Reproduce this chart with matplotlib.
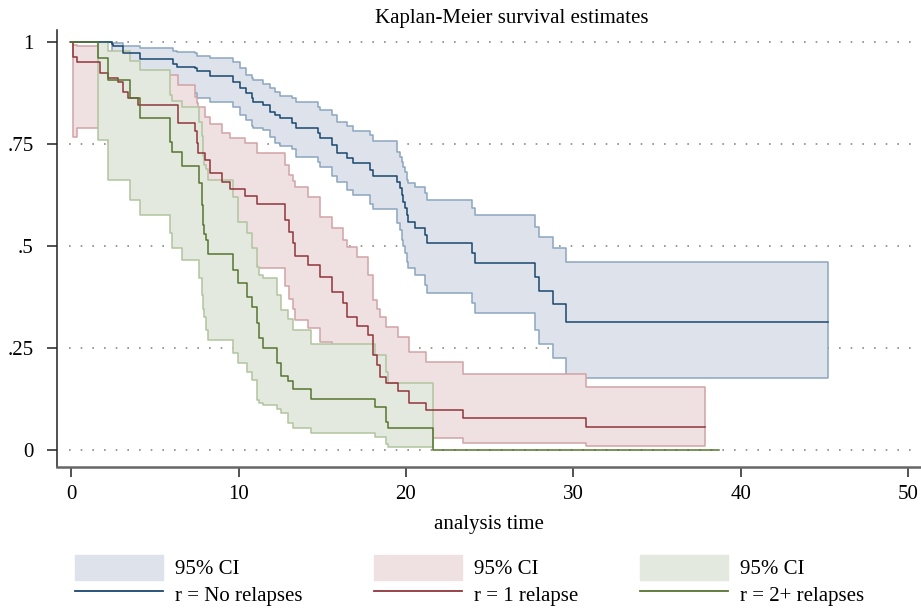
import matplotlib
matplotlib.use("Agg")
import matplotlib.pyplot as plt
from matplotlib.patches import Patch
from matplotlib.lines import Line2D

plt.rcParams["font.family"] = ["Liberation Serif", "DejaVu Serif"]

# --- r = No relapses: event times, survivor function and 95% CI
t_none = [0, 2.45, 2.51, 3.11, 4.12, 6.09, 6.33, 7.41, 7.53, 8.30, 9.68, 10.10,
          10.45, 10.81, 10.87, 11.47, 11.89, 12.19, 12.49, 13.20, 13.44, 14.76,
          14.87, 15.59, 15.89, 16.49, 16.85, 17.86, 18.04, 19.47, 19.65, 19.77,
          19.83, 19.95, 20.07, 20.13, 20.55, 21.15, 21.27, 23.95, 24.13, 27.72,
          27.96, 28.79, 29.57]
s_none = [1, 0.995, 0.990, 0.973, 0.958, 0.946, 0.939, 0.936, 0.929, 0.917, 0.902,
          0.887, 0.875, 0.863, 0.853, 0.846, 0.828, 0.821, 0.814, 0.801, 0.789,
          0.777, 0.765, 0.748, 0.728, 0.716, 0.703, 0.686, 0.672, 0.657, 0.642,
          0.625, 0.608, 0.593, 0.576, 0.559, 0.544, 0.527, 0.507, 0.483, 0.458,
          0.424, 0.390, 0.358, 0.314]
hi_none = [1, 0.999, 0.997, 0.990, 0.985, 0.978, 0.975, 0.973, 0.966, 0.961, 0.951,
           0.936, 0.919, 0.912, 0.907, 0.897, 0.887, 0.877, 0.868, 0.863, 0.853,
           0.841, 0.833, 0.821, 0.804, 0.794, 0.782, 0.772, 0.757, 0.730, 0.718,
           0.706, 0.693, 0.681, 0.662, 0.655, 0.645, 0.630, 0.613, 0.593, 0.576,
           0.547, 0.522, 0.495, 0.461]
lo_none = [1, 0.965, 0.955, 0.925, 0.905, 0.890, 0.880, 0.875, 0.863, 0.853, 0.840,
           0.821, 0.809, 0.795, 0.789, 0.784, 0.767, 0.752, 0.745, 0.737, 0.718,
           0.706, 0.694, 0.672, 0.657, 0.637, 0.625, 0.603, 0.590, 0.557, 0.539,
           0.515, 0.500, 0.483, 0.461, 0.446, 0.429, 0.404, 0.385, 0.360, 0.336,
           0.294, 0.260, 0.225, 0.176]
end_none = 45.22

# --- r = 1 relapse
t_one = [0, 0.10, 0.36, 1.73, 2.21, 2.81, 3.11, 3.41, 4.00, 6.39, 7.41, 7.53, 7.59,
         8.00, 8.30, 9.02, 9.50, 10.39, 11.11, 12.78, 13.02, 13.26, 13.38, 14.16,
         14.87, 15.59, 16.25, 16.49, 17.08, 17.74, 18.04, 18.30, 18.46, 18.82,
         19.53, 20.19, 21.21, 23.42, 30.76]
s_one = [1, 0.963, 0.951, 0.924, 0.912, 0.902, 0.877, 0.863, 0.846, 0.801, 0.782,
         0.752, 0.728, 0.711, 0.679, 0.657, 0.640, 0.623, 0.603, 0.564, 0.534,
         0.507, 0.475, 0.453, 0.424, 0.387, 0.360, 0.326, 0.304, 0.282, 0.233,
         0.208, 0.179, 0.164, 0.145, 0.115, 0.098, 0.078, 0.056]
hi_one = [1, 0.993, 0.990, 0.980, 0.965, 0.955, 0.945, 0.931, 0.920, 0.895, 0.865,
          0.850, 0.841, 0.816, 0.800, 0.777, 0.765, 0.752, 0.728, 0.699, 0.674,
          0.660, 0.645, 0.620, 0.571, 0.544, 0.515, 0.498, 0.473, 0.429, 0.368,
          0.345, 0.326, 0.301, 0.277, 0.240, 0.216, 0.186, 0.155]
lo_one = [1, 0.767, 0.789, 0.770, 0.755, 0.740, 0.710, 0.695, 0.675, 0.625, 0.600,
          0.570, 0.550, 0.530, 0.500, 0.480, 0.465, 0.455, 0.446, 0.402, 0.370,
          0.345, 0.319, 0.299, 0.265, 0.235, 0.210, 0.190, 0.170, 0.150, 0.110,
          0.095, 0.085, 0.070, 0.055, 0.040, 0.029, 0.017, 0.010]
end_one = 37.87

# --- r = 2+ relapses (CI stops when the estimate reaches 0)
t_two = [0, 1.61, 2.21, 3.52, 4.12, 5.91, 6.03, 6.63, 7.65, 7.83, 7.89, 7.95, 8.06,
         8.18, 9.68, 9.98, 10.51, 10.81, 11.11, 11.20, 11.47, 12.31, 12.54, 12.96,
         13.26, 14.34, 18.16, 18.82, 18.94, 21.63]
s_two = [1, 0.961, 0.907, 0.863, 0.814, 0.755, 0.730, 0.696, 0.654, 0.600, 0.551,
         0.530, 0.515, 0.480, 0.441, 0.409, 0.375, 0.350, 0.311, 0.275, 0.250,
         0.213, 0.181, 0.169, 0.150, 0.125, 0.105, 0.069, 0.054, 0.0]
hi_two = [1, 1.0, 0.978, 0.953, 0.931, 0.870, 0.855, 0.841, 0.804, 0.770, 0.720,
          0.700, 0.690, 0.662, 0.620, 0.559, 0.532, 0.495, 0.449, 0.430, 0.422,
          0.380, 0.343, 0.321, 0.294, 0.260, 0.233, 0.191, 0.164]
lo_two = [1, 0.760, 0.662, 0.613, 0.576, 0.532, 0.495, 0.466, 0.422, 0.380, 0.345,
          0.326, 0.294, 0.270, 0.238, 0.213, 0.191, 0.172, 0.123, 0.115, 0.110,
          0.100, 0.091, 0.066, 0.054, 0.042, 0.032, 0.015, 0.007]
end_two = 38.71

labels = ["r = No relapses", "r = 1 relapse", "r = 2+ relapses"]
line_colors = ["#1a476f", "#90353b", "#55752f"]
fill_colors = ["#dee3eb", "#efe1e2", "#e3e9de"]
edge_colors = ["#8ca6c0", "#d2a3a7", "#b2c49f"]

groups = [
    (t_none, s_none, hi_none, lo_none, end_none),
    (t_one, s_one, hi_one, lo_one, end_one),
    (t_two, s_two, hi_two, lo_two, end_two),
]

fig = plt.figure(figsize=(9.21, 6.12), dpi=100)
ax = fig.add_axes([57 / 921, 1 - 467 / 612, 863 / 921, (467 - 30) / 612])

yticks = [0, 0.25, 0.5, 0.75, 1]
ax.hlines(yticks, -0.1, 50.2, colors="#8a8a8a", linewidth=1.2,
          linestyles=(0, (1, 6)), zorder=0)

# CI bands first (later groups cover earlier ones), then the step lines on top
for i, (t, s, hi, lo, t_end) in enumerate(groups):
    n = len(hi)
    ci_end = t[n] if n < len(t) else t_end
    tc = list(t[:n]) + [ci_end]
    ax.fill_between(tc, list(lo) + [lo[-1]], list(hi) + [hi[-1]], step="post",
                    facecolor=fill_colors[i], edgecolor=edge_colors[i],
                    linewidth=1.1, zorder=1 + i)

for i, (t, s, hi, lo, t_end) in enumerate(groups):
    ax.step(list(t) + [t_end], list(s) + [s[-1]], where="post",
            color=line_colors[i], linewidth=1.1, zorder=5 + i)

ax.set_xlim(-0.84, 50.7)
ax.set_ylim(-0.042, 1.03)
ax.set_xticks([0, 10, 20, 30, 40, 50])
ax.set_yticks(yticks)
ax.set_yticklabels(["0", ".25", ".5", ".75", "1"])
for side in ["top", "right"]:
    ax.spines[side].set_visible(False)
ax.spines["left"].set_color("#222222")
ax.spines["left"].set_linewidth(1.1)
ax.spines["bottom"].set_color("#666666")
ax.spines["bottom"].set_linewidth(1.8)
ax.tick_params(axis="x", length=7, width=1.1, color="#222222", pad=6, labelsize=15)
ax.tick_params(axis="y", length=7, width=1.1, color="#222222", pad=10, labelsize=15)

ax.set_xlabel("analysis time", fontsize=15, labelpad=8)
fig.text(512 / 921, 1 - 18 / 612, "Kaplan-Meier survival estimates",
         ha="center", va="center", fontsize=15)

# legend: three columns, CI patch above the line entry
legend_x = [75, 374, 640]
for i in range(3):
    handles = [Patch(facecolor=fill_colors[i], edgecolor=fill_colors[i]),
               Line2D([], [], color=line_colors[i], linewidth=1.3)]
    fig.legend(handles, ["95% CI", labels[i]], loc="upper left",
               bbox_to_anchor=(legend_x[i] / 921, 1 - 555 / 612),
               frameon=False, fontsize=15, handlelength=4.2, handleheight=1.45,
               handletextpad=0.6, labelspacing=0.1, borderpad=0, borderaxespad=0)

fig.savefig("out.png", dpi=100)
